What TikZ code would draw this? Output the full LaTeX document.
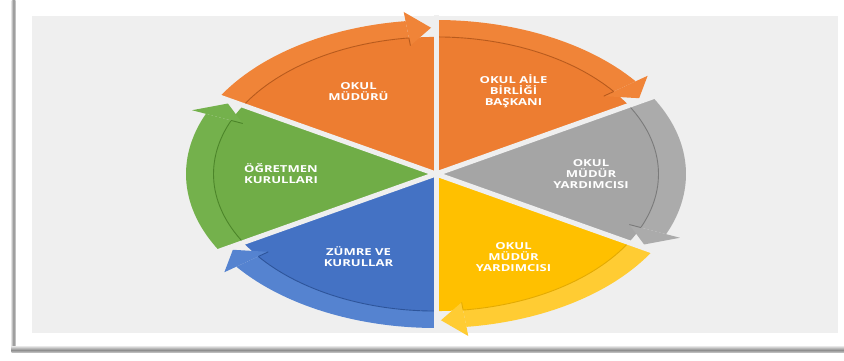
\documentclass[tikz,border=0pt]{standalone}
\usepackage{fontspec}
\newfontfamily\dilim[FakeStretch=1.36]{Open Sans}
\definecolor{turuncu}{HTML}{ED7D31}
\definecolor{turuncuA}{HTML}{F08438}
\definecolor{turuncuK}{HTML}{B85A1C}
\definecolor{gri}{HTML}{A5A5A5}
\definecolor{griA}{HTML}{ABABAB}
\definecolor{griK}{HTML}{7A7A7A}
\definecolor{sari}{HTML}{FFC000}
\definecolor{sariA}{HTML}{FFCC33}
\definecolor{sariK}{HTML}{E3AA00}
\definecolor{mavi}{HTML}{4472C4}
\definecolor{maviA}{HTML}{5583D0}
\definecolor{maviK}{HTML}{2D549A}
\definecolor{yesil}{HTML}{70AD47}
\definecolor{yesilA}{HTML}{74B14C}
\definecolor{yesilK}{HTML}{4C8529}
\definecolor{zemin}{HTML}{EFEFEF}
\definecolor{golge}{HTML}{8E8E8E}

\begin{document}
\begin{tikzpicture}[x=1pt,y=1pt,
    yazi/.style={text=white,align=center,inner sep=1pt,
                 font=\dilim\bfseries\fontsize{9.6}{11}\selectfont},
    ayrac/.style={line width=5pt,draw=zemin},
    kenar/.style={line width=0.9pt}]
  \useasboundingbox (0,0) rectangle (844,361);
  \fill[white] (0,0) rectangle (844,361);
  \fill[zemin] (32,28) rectangle (838,345);
  \shade[left color=golge!40,right color=golge!40,middle color=golge] (11.5,8) rectangle (15.5,361);
  \shade[top color=golge!40,bottom color=golge!40,middle color=golge] (11.5,8) rectangle (844,14);
  \begin{scope}[shift={(436,187)},x=250pt,y=154pt]
    \foreach \e/\renk/\bant/\koyu/\nm/\txt in {
        90/turuncu/turuncuA/turuncuK/mudur/{OKUL\\MÜDÜRÜ},
        30/turuncu/turuncuA/turuncuK/aile/{OKUL AİLE\\BİRLİĞİ\\BAŞKANI},
        -30/gri/griA/griK/yard/{OKUL\\MÜDÜR\\YARDIMCISI},
        -90/sari/sariA/sariK/yardB/{OKUL\\MÜDÜR\\YARDIMCISI},
        -150/mavi/maviA/maviK/zumre/{ZÜMRE VE\\KURULLAR},
        150/yesil/yesilA/yesilK/ogrt/{ÖĞRETMEN\\KURULLARI}}{
      \pgfmathsetmacro\aBas{\e+60}
      \pgfmathsetmacro\aOrta{\e+30}
      \pgfmathsetmacro\aUc{\e+7}
      \fill[\renk] (0,0) -- (\e:0.89) arc[start angle=\e,end angle=\aBas,radius=0.89] -- cycle;
      \fill[\bant] (\aBas:1) arc[start angle=\aBas,end angle=\aUc,radius=1]
        -- (\aUc:0.89) arc[start angle=\aUc,end angle=\aBas,radius=0.89] -- cycle;
      \draw[kenar,\koyu] (\aBas:0.89) arc[start angle=\aBas,end angle=\aUc,radius=0.89];
      \node[yazi] (\nm) at (\aOrta:0.62) {\txt};
    }
    \foreach \a in {30,90,...,330}
      \draw[ayrac] (0,0) -- (\a:1.03);
    \foreach \e/\bant/\koyu in {90/turuncuA/turuncuK,30/turuncuA/turuncuK,-30/griA/griK,
        -90/sariA/sariK,-150/maviA/maviK,150/yesilA/yesilK}{
      \pgfmathsetmacro\aUc{\e+7}
      \pgfmathsetmacro\aSon{\e+1.2}
      \fill[\bant] (\aUc:1.06) -- (\aSon:0.95) -- (\aUc:0.84) -- cycle;
      \draw[kenar,\koyu] (\aUc:0.84) -- (\aUc:0.89);
    }
  \end{scope}
\end{tikzpicture}
\end{document}
